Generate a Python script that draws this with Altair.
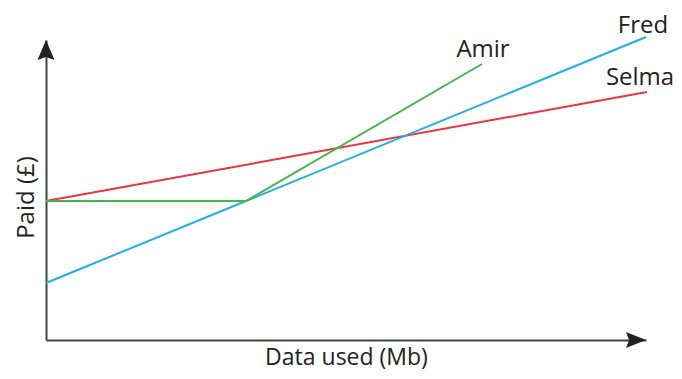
import altair as alt
import pandas as pd

# Series (x = data used, y = paid) in arbitrary units
series_names = ["Selma", "Selma", "Fred", "Fred", "Amir", "Amir", "Amir"]
x_vals = [0, 601, 0, 600, 0, 200, 436]
y_vals = [139, 248, 57, 303, 139, 139, 276]
order_vals = [0, 1, 0, 1, 0, 1, 2]

label_names = ["Amir", "Fred", "Selma"]
label_x = [437, 597, 594]
label_y = [276, 300, 248]

colors_domain = ["Amir", "Fred", "Selma"]
colors_range = ["#43b649", "#1fb0e6", "#ee3340"]

lines_df = pd.DataFrame({"name": series_names, "x": x_vals, "y": y_vals, "o": order_vals})
labels_df = pd.DataFrame({"name": label_names, "x": label_x, "y": label_y})
arrow_df = pd.DataFrame({"x": [600, 0], "y": [0, 300], "dir": ["right", "up"]})

FONT = "Open Sans"
FS = 24

xs = alt.Scale(domain=[0, 600], nice=False, zero=False)
ys = alt.Scale(domain=[0, 300], nice=False, zero=False)

x_axis = alt.Axis(title="Data used (Mb)", ticks=False, labels=False, grid=False,
                  domain=True, domainColor="#444444", domainWidth=2,
                  titleFont=FONT, titleFontSize=23, titleFontWeight="normal",
                  titleColor="#222222", titlePadding=6)
y_axis = alt.Axis(title="Paid (£)", ticks=False, labels=False, grid=False,
                  domain=True, domainColor="#444444", domainWidth=2,
                  titleFont=FONT, titleFontSize=FS, titleFontWeight="normal",
                  titleColor="#222222", titlePadding=8, titleY=157, titleAlign="center")

lines = alt.Chart(lines_df).mark_line(strokeWidth=2, clip=False).encode(
    x=alt.X("x:Q", scale=xs, axis=x_axis),
    y=alt.Y("y:Q", scale=ys, axis=y_axis),
    color=alt.Color("name:N", scale=alt.Scale(domain=colors_domain, range=colors_range), legend=None),
    order="o:Q",
    detail="name:N",
)

labels = alt.Chart(labels_df).mark_text(
    font=FONT, fontSize=FS, color="#222222", align="center", baseline="alphabetic", dy=-7
).encode(
    x=alt.X("x:Q", scale=xs),
    y=alt.Y("y:Q", scale=ys),
    text="name:N",
)

arrow_right = alt.Chart(arrow_df).transform_filter("datum.dir == 'right'").mark_point(
    shape="M0,0L-2,-0.8L-1.7,0L-2,0.8Z", size=400, filled=True, color="#222222", opacity=1, clip=False
).encode(x=alt.X("x:Q", scale=xs), y=alt.Y("y:Q", scale=ys))

arrow_up = alt.Chart(arrow_df).transform_filter("datum.dir == 'up'").mark_point(
    shape="M0,0L-0.85,2L0,1.7L0.85,2Z", size=400, filled=True, color="#222222", opacity=1, clip=False
).encode(x=alt.X("x:Q", scale=xs), y=alt.Y("y:Q", scale=ys))

chart = alt.layer(lines, labels, arrow_right, arrow_up).properties(
    width=600, height=300,
    background="white",
    autosize=alt.AutoSizeParams(type="none"),
    padding={"left": 38, "top": 32, "right": 28, "bottom": 31},
).configure_view(strokeWidth=0, stroke="transparent")

chart.save("out.html", embed_options={"renderer": "svg", "actions": False})
